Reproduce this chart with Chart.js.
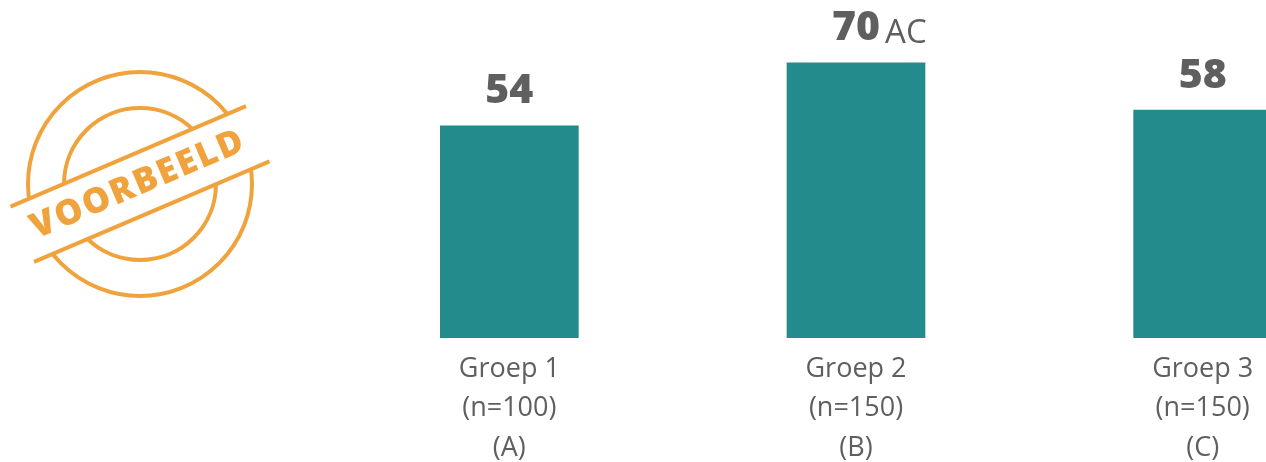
<!DOCTYPE html>
<html>
<head>
<meta charset="utf-8">
<script src="https://cdn.jsdelivr.net/npm/chart.js@4/dist/chart.umd.min.js"></script>
<style>
    html, body { margin: 0; padding: 0; background: #fff; overflow: hidden; }
    #wrap { position: absolute; left: 0; top: 0; width: 1380px; height: 462px; }
</style>
</head>
<body>
<div id="wrap"><canvas id="groepenChart"></canvas></div>
<script>
// gegevens van de grafiek
const groepen = [["Groep 1", "(n=100)", "(A)"], ["Groep 2", "(n=150)", "(B)"], ["Groep 3", "(n=150)", "(C)"]];
const scores = [54, 70, 58];
const significant = ["", "AC", ""];

const teal = '#238b8c';
const grijs = '#5f5f5f';
const oranje = '#f0a33c';

// waarden boven de staven
const waardeLabels = {
    id: 'waardeLabels',
    afterDatasetsDraw(chart) {
        const ctx = chart.ctx;
        const meta = chart.getDatasetMeta(0);
        ctx.save();
        meta.data.forEach((bar, i) => {
            const y = bar.y - 22;
            ctx.font = '800 41px "Open Sans"';
            ctx.fillStyle = grijs;
            ctx.textAlign = 'center';
            ctx.textBaseline = 'alphabetic';
            const tekst = String(scores[i]);
            ctx.fillText(tekst, bar.x, y);
            if (significant[i]) {
                const w = ctx.measureText(tekst).width;
                ctx.font = '33px "Open Sans"';
                ctx.textAlign = 'left';
                ctx.fillText(significant[i], bar.x + w / 2 + 5, y + 3);
            }
        });
        ctx.restore();
    }
};

// stempel "VOORBEELD" links
const stempel = {
    id: 'stempel',
    afterDraw(chart) {
        const ctx = chart.ctx;
        const cx = 140, cy = 184;
        const hoek = -23.1 * Math.PI / 180;
        ctx.save();
        ctx.strokeStyle = oranje;
        ctx.lineWidth = 4;
        ctx.beginPath();
        ctx.arc(cx, cy, 112, 0, Math.PI * 2);
        ctx.stroke();
        ctx.beginPath();
        ctx.arc(cx, cy, 76, 0, Math.PI * 2);
        ctx.stroke();

        ctx.translate(cx, cy);
        ctx.rotate(hoek);
        // band wit maken
        ctx.fillStyle = '#fff';
        ctx.fillRect(-128, -30, 256, 60);
        ctx.beginPath();
        ctx.moveTo(-128, -30); ctx.lineTo(128, -30);
        ctx.moveTo(-128, 30); ctx.lineTo(128, 30);
        ctx.stroke();

        ctx.fillStyle = oranje;
        ctx.font = '800 35px "Open Sans"';
        ctx.textBaseline = 'middle';
        ctx.textAlign = 'left';
        const woord = 'VOORBEELD';
        const totaal = 228;
        const breedtes = woord.split('').map(c => ctx.measureText(c).width);
        const som = breedtes.reduce((a, b) => a + b, 0);
        const gat = (totaal - som) / (woord.length - 1);
        let x = -totaal / 2 - 3;
        woord.split('').forEach((c, i) => {
            ctx.fillText(c, x, 0);
            x += breedtes[i] + gat;
        });
        ctx.restore();
    }
};

const ctx = document.getElementById('groepenChart').getContext('2d');
new Chart(ctx, {
    type: 'bar',
    data: {
        labels: groepen,
        datasets: [{
            data: scores,
            backgroundColor: teal,
            borderWidth: 0,
            barPercentage: 0.4,
            categoryPercentage: 1
        }]
    },
    options: {
        responsive: true,
        maintainAspectRatio: false,
        animation: false,
        layout: { padding: { left: 336, right: 4, top: 23, bottom: 0 } },
        plugins: {
            legend: { display: false },
            tooltip: { enabled: false }
        },
        scales: {
            x: {
                grid: { display: false },
                border: { display: false },
                ticks: {
                    color: grijs,
                    padding: 4,
                    font: { family: '"Open Sans"', size: 27, lineHeight: 1.45 }
                },
                afterFit(scale) { scale.height = 124; }
            },
            y: {
                display: false,
                min: 0,
                max: 80
            }
        }
    },
    plugins: [waardeLabels, stempel]
});
</script>
</body>
</html>
